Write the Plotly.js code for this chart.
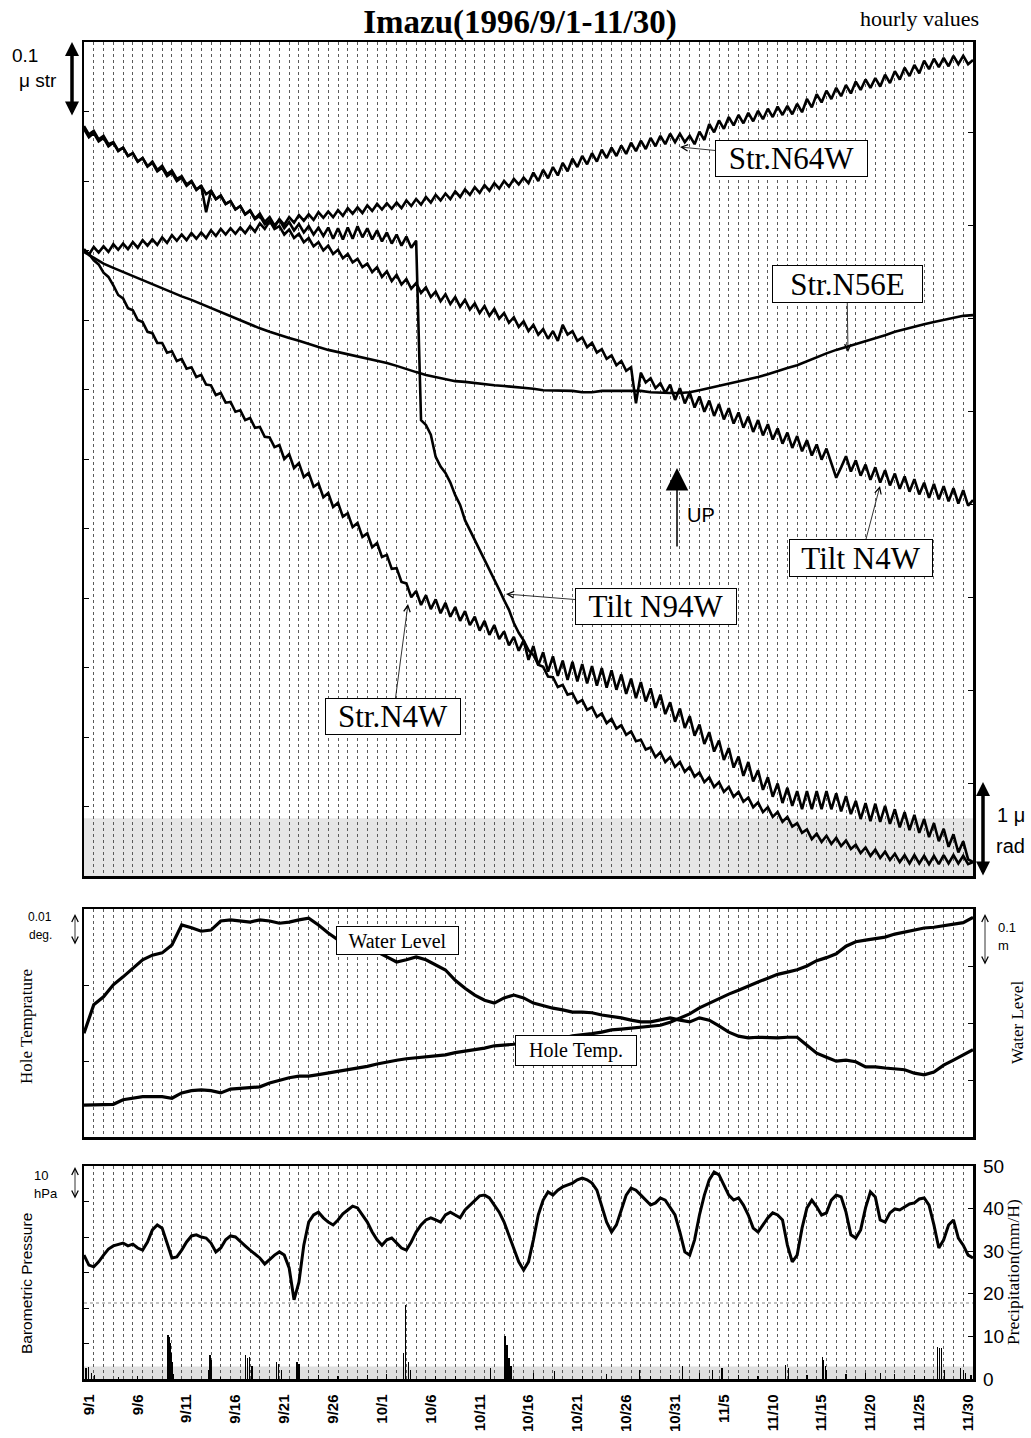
<!DOCTYPE html>
<html><head><meta charset="utf-8">
<script src="https://cdn.plot.ly/plotly-3.0.1.min.js"></script>
<style>html,body{margin:0;padding:0;background:#fff}#chart{width:1031px;height:1438px}</style>
</head><body><div id="chart"></div>
<script>
// ---- tick labels (day index from 1996-09-01 00:00) ----
const tickDays = [0,5,10,15,20,25,30,35,40,45,50,55,60,65,70,75,80,85,90];
const tickLabels = ['9/1','9/6','9/11','9/16','9/21','9/26','10/1','10/6','10/11','10/16','10/21','10/26','10/31','11/5','11/10','11/15','11/20','11/25','11/30'];

// ---- top panel: strain (0.001 microstrain, relative) ; tilt (relative units) ----
// hi = value at day d, lo = value at day d+0.5 (tidal wiggle envelope)
const strN64W_hi = [902,905,906,909,910,912,915,916,919,922,923,925,926,929,931,932,933,935,939,942,945,948,951,952,955,956,958,961,962,965,967,968,969,972,974,977,980,982,985,988,991,994,997,1000,1003,1005,1012,1016,1020,1026,1032,1036,1040,1045,1048,1051,1055,1058,1062,1065,1068,1068,1065,1071,1082,1087,1092,1095,1098,1101,1104,1107,1108,1111,1118,1125,1130,1134,1138,1143,1146,1148,1153,1158,1163,1167,1173,1176,1177,1180,1180,1174];
const strN64W_lo = [894,897,898,901,902,904,907,908,911,914,915,917,918,921,923,924,925,927,931,934,937,940,943,944,947,948,950,953,954,957,959,960,961,964,966,969,972,974,977,980,983,986,989,992,995,997,1000,1004,1008,1014,1020,1024,1028,1033,1036,1039,1043,1046,1050,1053,1056,1056,1053,1059,1070,1075,1080,1083,1086,1089,1092,1095,1096,1099,1106,1113,1118,1122,1126,1131,1134,1136,1141,1146,1151,1155,1161,1164,1165,1168,1168];
const strN56E = [898,889,881,875,869,863,858,852,846,840,834,829,823,817,811,806,800,794,788,783,778,774,770,765,761,757,754,751,748,745,742,738,734,729,725,721,718,715,712,711,709,708,706,705,704,702,701,699,699,698,698,696,696,698,698,699,699,698,696,695,695,695,696,699,702,705,708,711,714,718,722,727,731,735,741,747,752,757,761,765,770,774,778,783,787,791,794,797,800,803,806,807];
const strN4W_hi = [901,886,868,850,831,814,797,781,767,755,744,732,721,706,695,682,670,659,646,631,620,607,594,580,565,551,537,522,508,493,479,462,443,421,410,404,398,393,387,381,373,367,361,352,344,339,331,322,316,310,308,305,302,299,296,290,284,279,270,261,250,241,230,218,207,195,184,172,164,152,142,133,127,122,122,122,122,119,115,108,105,104,101,96,92,88,82,76,68,60,50,20];
const strN4W_lo = [895,880,862,836,817,800,783,767,753,741,730,718,707,692,681,668,656,645,632,617,600,587,574,560,545,531,517,502,488,473,459,442,423,401,390,384,378,373,367,361,353,347,341,332,324,311,303,294,288,282,280,277,274,271,268,262,256,251,242,233,222,213,202,190,179,167,156,144,136,124,114,105,101,96,96,96,96,93,89,82,79,78,75,70,66,62,56,50,42,34,24];
const tiltN4W_hi = [1079,1072,1065,1056,1048,1040,1033,1026,1019,1012,1005,999,993,986,979,971,964,957,950,943,935,930,924,918,912,907,901,895,888,881,876,870,865,859,853,847,841,837,833,829,824,820,816,810,804,798,793,787,784,793,784,775,767,758,749,741,732,724,716,709,707,702,696,690,684,679,673,667,661,656,650,644,638,633,627,621,615,573,604,598,592,588,584,579,575,571,566,564,561,558,555,541];
const tiltN4W_lo = [1067,1060,1053,1044,1036,1028,1021,1014,1007,1000,993,987,955,974,967,959,952,945,938,931,923,918,912,906,900,895,889,883,876,869,862,856,851,845,839,833,827,823,819,815,810,806,802,796,790,784,779,773,770,779,770,761,753,744,735,727,680,710,702,695,685,680,674,668,662,657,651,645,639,634,628,622,616,611,605,599,593,588,582,576,570,566,562,557,553,549,544,542,539,536,533];
const tiltN94W_hi = [1075,1069,1062,1055,1048,1040,1033,1028,1022,1015,1007,1000,993,986,979,971,964,958,953,948,944,941,938,935,933,933,932,933,935,932,929,926,923,920,914,649,603,580,548,512,483,454,426,397,364,339,318,301,286,275,263,253,243,234,226,217,208,196,185,178,171,164,157,149,142,135,128,121,113,106,99,92,85,76,67,61,58,55,51,45,41,38,35,32,30,30,29,29,30,30,29,20];
const tiltN94W_lo = [1063,1057,1050,1043,1036,1028,1021,1016,1010,1003,995,988,981,974,967,959,952,946,941,936,932,929,926,923,921,917,916,917,919,916,913,910,907,904,656,635,589,566,534,498,469,440,412,383,350,325,304,287,272,261,249,239,229,220,212,203,194,182,171,164,157,150,143,135,128,121,114,107,99,92,85,78,71,62,53,49,46,43,39,33,29,26,23,20,18,18,17,17,18,18,17];

// ---- middle panel (daily) ----
const holeTemp = [4.2,4.2,4.2,4.3,4.9,5.1,5.3,5.3,5.3,5.1,5.8,6.1,6.2,6.1,5.8,6.3,6.4,6.6,6.6,7.1,7.5,7.8,8.0,8.0,8.2,8.4,8.6,8.8,9.1,9.3,9.6,9.9,10.1,10.3,10.4,10.5,10.7,10.8,11.1,11.3,11.4,11.7,12.0,12.1,12.2,12.5,12.6,12.8,12.9,13.0,13.3,13.4,13.6,13.8,14.1,14.2,14.3,14.5,14.6,14.7,15.1,15.7,16.2,17.0,17.6,18.3,18.8,19.3,19.9,20.4,20.9,21.4,21.7,22.0,22.5,23.2,23.6,24.1,25.1,25.7,25.9,26.1,26.3,26.7,27.0,27.2,27.5,27.6,27.8,27.9,28.2,28.9]; // 0.001 deg, relative
const waterLevel = [18.2,23.2,24.6,26.7,28.1,29.6,31.1,31.9,32.3,33.7,37.2,36.7,36.1,36.3,37.9,38.1,37.9,37.7,38.1,37.9,37.5,37.7,38.1,38.4,37.2,35.8,34.6,33.7,33.2,32.8,32.5,31.6,30.7,31.1,31.6,31.1,30.2,29.3,27.5,26.1,24.9,24.0,23.5,24.4,24.9,24.4,23.5,23.0,22.6,22.3,21.9,21.9,21.8,21.4,21.2,20.9,20.5,20.2,20.2,20.5,20.9,20.5,20.2,20.9,20.5,19.5,18.4,17.7,17.4,17.5,17.4,17.4,17.5,17.5,16.1,14.7,14.0,13.3,13.5,13.2,12.3,12.3,12.1,11.9,11.8,11.2,10.9,11.4,12.6,13.5,14.4,15.3]; // cm, relative

// ---- bottom panel ----
const pressure = [1004.9,1002.1,1001.6,1003.0,1004.9,1006.6,1007.5,1008.0,1008.3,1007.5,1008.0,1006.9,1006.3,1008.6,1012.0,1013.4,1012.5,1008.3,1004.1,1004.4,
1006.3,1008.6,1010.3,1010.6,1010.0,1009.7,1008.3,1005.8,1006.9,1009.2,1010.3,1010.0,1008.6,1007.5,1006.3,1005.2,1004.1,1002.4,1003.8,1004.9,
1005.8,1004.9,1001.3,992.3,997.3,1007.7,1014.2,1016.2,1017.0,1015.4,1014.2,1013.4,1014.8,1016.5,1017.6,1018.7,1018.2,1016.2,1014.2,1011.4,
1009.2,1007.7,1009.2,1009.7,1008.3,1006.9,1006.3,1008.6,1011.4,1013.4,1014.8,1015.4,1014.8,1014.2,1016.2,1017.0,1016.2,1015.4,1017.6,1019.0,
1020.4,1021.6,1021.8,1021.0,1019.0,1017.0,1014.2,1010.6,1006.9,1003.0,1000.7,1003.0,1009.2,1016.2,1020.4,1022.7,1021.8,1023.2,1024.1,1024.7,
1025.2,1026.1,1026.6,1026.1,1025.2,1023.2,1019.0,1014.2,1011.4,1013.4,1017.6,1021.8,1023.8,1023.2,1021.8,1020.4,1019.0,1019.6,1021.0,1020.4,
1018.2,1016.2,1011.4,1005.8,1004.9,1009.2,1016.2,1021.8,1026.1,1028.3,1027.5,1024.7,1021.8,1020.4,1021.0,1019.0,1016.2,1012.5,1011.4,1013.4,
1015.4,1016.8,1016.2,1014.8,1007.7,1003.0,1004.9,1012.5,1018.2,1020.4,1018.5,1016.2,1016.8,1020.4,1021.8,1021.3,1017.0,1010.6,1009.7,1012.0,
1018.2,1022.7,1021.3,1014.8,1014.2,1016.8,1017.9,1017.6,1018.5,1019.3,1019.6,1020.7,1021.0,1019.0,1013.4,1006.9,1009.2,1013.4,1014.8,1009.7,
1007.7,1004.9,1004.1]; // hPa, every half day
const precipDay = [0.2,0.5,0.8,1.1,3.5,5.5,8.6,8.7,8.8,8.9,9.0,9.1,9.2,12.8,12.9,13.0,14.0,16.5,16.7,16.9,17.2,19.7,19.9,20.2,21.8,22.0,24.0,26.0,29.0,31.0,32.7,32.9,33.2,33.4,36.0,38.0,41.6,43.1,43.3,43.5,43.7,46.0,48.2,51.0,53.5,56.9,58.0,60.0,61.3,63.0,64.3,65.3,67.0,69.0,71.8,72.1,74.0,75.6,75.7,75.9,76.0,78.0,80.0,81.5,83.0,85.0,86.0,87.4,87.6,87.8,88.1,89.7,90.0,90.2,90.8];
const precipMM = [2.5,2.8,1.5,1.0,0.5,0.8,10.3,9.8,8.5,6.0,4.0,2.5,1.2,2.0,5.6,4.5,0.5,5.6,5.0,5.2,3.0,4.0,3.5,2.0,4.0,3.5,1.0,0.8,1.0,1.2,6.0,17.4,4.0,2.0,0.8,0.6,2.6,10.2,8.0,5.0,3.0,1.5,1.8,0.8,1.2,2.0,0.8,1.0,3.0,1.5,2.0,2.5,1.0,0.8,3.3,2.5,1.0,5.2,4.5,3.0,2.0,1.2,1.3,1.5,1.2,1.0,0.8,7.5,7.3,7.2,2.0,2.5,2.0,1.5,1.0];

// ---- helpers ----
function zig(hi, lo){const x=[],y=[];for(let i=0;i<hi.length;i++){x.push(i);y.push(hi[i]);if(i<lo.length){x.push(i+0.5);y.push(lo[i]);}}return {x,y};}
const dayIdx = a => a.map((_,i)=>i);
const halfIdx = a => a.map((_,i)=>i*0.5);
const L = (w)=>({color:'#000',width:w});

const traces = [];
function addZig(hi,lo,ax,ay,w){const z=zig(hi,lo);traces.push({type:'scatter',mode:'lines',x:z.x,y:z.y,xaxis:ax,yaxis:ay,line:L(w),hoverinfo:'skip'});}
addZig(strN64W_hi,strN64W_lo,'x3','y5',2.6);
traces.push({type:'scatter',mode:'lines',x:dayIdx(strN56E),y:strN56E,xaxis:'x3',yaxis:'y5',line:L(2.6)});
addZig(strN4W_hi,strN4W_lo,'x3','y5',2.6);
addZig(tiltN4W_hi,tiltN4W_lo,'x3','y6',2.6);
addZig(tiltN94W_hi,tiltN94W_lo,'x3','y6',2.6);
traces.push({type:'scatter',mode:'lines',x:dayIdx(holeTemp),y:holeTemp,xaxis:'x2',yaxis:'y3',line:L(3.2)});
traces.push({type:'scatter',mode:'lines',x:dayIdx(waterLevel),y:waterLevel,xaxis:'x2',yaxis:'y4',line:L(3.2)});
traces.push({type:'scatter',mode:'lines',x:halfIdx(pressure),y:pressure,xaxis:'x',yaxis:'y',line:L(3)});
traces.push({type:'bar',x:precipDay,y:precipMM,width:precipDay.map(()=>0.12),xaxis:'x',yaxis:'y2',marker:{color:'#000',line:{width:0}}});

// ---- layout ----
const W=1031,H=1438,ML=84,MR=58,MT=42,MB=59;
const PW=W-ML-MR, PH=H-MT-MB;
const px=(x)=>(x-ML)/PW, py=(y)=>(H-MB-y)/PH;
const sans='Liberation Sans, Arial, sans-serif', serif='Liberation Serif, Times New Roman, serif';
const minorGrid={tickmode:'linear',tick0:0,dtick:1,showgrid:true,gridcolor:'#5a5a5a',griddash:'dot',gridwidth:1,ticks:''};
function xax(anchor,labels){return {domain:[0,1],anchor:anchor,range:[0,91],tickmode:'array',tickvals:tickDays.map(d=>d+0.5),ticktext:tickLabels,showticklabels:labels,tickangle:-90,tickfont:{family:sans,size:15,color:'#000',weight:'bold'},ticks:'',ticklabelstandoff:7,showgrid:false,zeroline:false,showline:true,mirror:true,linecolor:'#000',linewidth:2.5,minor:minorGrid,fixedrange:true};}
function yax(dom,range,dtick,side,over,anchor,labels){const o={domain:dom,range:range,dtick:dtick,tick0:range[0],ticks:'inside',ticklen:5,tickwidth:1,tickcolor:'#000',showticklabels:!!labels,showgrid:false,zeroline:false,anchor:anchor,side:side,fixedrange:true};
 if(over){o.overlaying=over;o.showline=false;}else{o.showline=true;o.mirror=true;o.linecolor='#000';o.linewidth=2.5;}
 if(labels){o.tickfont={family:sans,size:19,color:'#000'};o.ticklabelstandoff=9;}
 return o;}
const dBot=[0,py(1166)], dMid=[py(1137),py(909)], dTop=[py(876),1];

function ann(x,y,text,size,fam,extra){return Object.assign({xref:'paper',yref:'paper',x:px(x),y:py(y),text:text,showarrow:false,font:{family:fam||sans,size:size,color:'#000'},xanchor:'center',yanchor:'middle'},extra||{});}
function dblArrow(x,yTop,len,w,head,size){return {xref:'paper',yref:'paper',x:px(x),y:py(yTop),ax:0,ay:len,axref:'pixel',ayref:'pixel',text:'',showarrow:true,arrowside:'end+start',arrowhead:head,startarrowhead:head,arrowsize:size,startarrowsize:size,arrowwidth:w,arrowcolor:'#000',standoff:0,startstandoff:0};}
function boxLabel(text,cx,cy,w,h,size,hx,hy){const o={xref:'paper',yref:'paper',text:text,font:{family:serif,size:size,color:'#000'},bordercolor:'#000',borderwidth:1,borderpad:0,bgcolor:'#fff',width:w,height:h,align:'center',valign:'middle'};
 if(hx===undefined){o.x=px(cx);o.y=py(cy);o.showarrow=false;}else{o.x=px(hx);o.y=py(hy);o.ax=cx-hx;o.ay=cy-hy;o.axref='pixel';o.ayref='pixel';o.showarrow=true;o.arrowhead=5;o.arrowsize=1.6;o.arrowwidth=0.8;o.arrowcolor='#000';}
 return o;}

const annotations=[
 ann(919,18,'hourly values',22,serif),
 ann(25,55,'0.1',19), ann(38,80,'μ str',19),
 dblArrow(72,42,75,3.5,2,0.8),
 dblArrow(983,782,95,3.5,2,0.8),
 ann(1011,815,'1 μ',20), ann(1010,846,'rad',20),
 ann(701,515,'UP',20),
 {xref:'paper',yref:'paper',x:px(677),y:py(468),ax:0,ay:80,axref:'pixel',ayref:'pixel',text:'',showarrow:true,arrowhead:2,arrowsize:3,arrowwidth:1.5,arrowcolor:'#000',standoff:0},
 boxLabel('Str.N64W',791,158,151,35,31,680,147),
 boxLabel('Str.N56E',847,284,149,36,31,848,352),
 boxLabel('Tilt N4W',861,558,142,36,31,880,486),
 boxLabel('Tilt N94W',656,606,160,35,31,506,594),
 boxLabel('Str.N4W',393,717,134,35,31,408,604),
 boxLabel('Water Level',336,955,121,27,20),
 boxLabel('Hole Temp.',576,1066,120,29,20),
 ann(40,917,'0.01',12), ann(40,935,'deg.',12),
 dblArrow(75,914,32,0.8,5,1.6),
 dblArrow(985,914,52,0.8,5,1.6),
 ann(1007,927,'0.1',13), ann(1003,945,'m',13),
 ann(41,1175,'10',13), ann(46,1193,'hPa',13),
 dblArrow(75,1167,33,0.8,5,1.6),
 ann(26,1027,'Hole Temprature',17,serif,{textangle:-90}),
 ann(26,1284,'Barometric Pressure',15.5,sans,{textangle:-90}),
 ann(1017,1023,'Water Level',17,serif,{textangle:-90}),
 ann(1013,1272,'Precipitation(mm/H)',17.5,serif,{textangle:-90})
];

const shapes=[
 {type:'rect',xref:'paper',yref:'y5',x0:0,x1:1,y0:0,y1:83,fillcolor:'#e6e6e6',line:{width:0},layer:'below'},
 {type:'line',xref:'paper',yref:'y',x0:0,x1:1,y0:991.4,y1:991.4,line:{color:'#b0b0b0',width:1.5,dash:'dot'},layer:'below'},
 {type:'rect',xref:'paper',yref:'y',x0:0,x1:1,y0:970,y1:973.5,fillcolor:'#e0e0e0',line:{width:0},layer:'below'}
];

const layout={
 width:W,height:H,margin:{l:ML,r:MR,t:MT,b:MB},paper_bgcolor:'#fff',plot_bgcolor:'#fff',showlegend:false,hovermode:false,bargap:0,
 title:{text:'Imazu(1996/9/1-11/30)',font:{family:serif,size:33,color:'#000',weight:'bold'},xref:'container',yref:'container',x:520/W,y:1-21/H,xanchor:'center',yanchor:'middle'},
 xaxis:xax('y',true), xaxis2:xax('y3',false), xaxis3:xax('y5',false),
 yaxis:yax(dBot,[970,1030],10,'left',null,'x',false),
 yaxis2:yax(dBot,[0,50],10,'right','y','x',true),
 yaxis3:yax(dMid,[0,30],10,'left',null,'x2',false),
 yaxis4:yax(dMid,[0,40],10,'right','y3','x2',false),
 yaxis5:yax(dTop,[0,1200],100,'left',null,'x3',false),
 yaxis6:yax(dTop,[0,1200],133.8,'right','y5','x3',false),
 annotations:annotations, shapes:shapes
};
Plotly.newPlot('chart',traces,layout,{staticPlot:true,displayModeBar:false});
</script></body></html>
